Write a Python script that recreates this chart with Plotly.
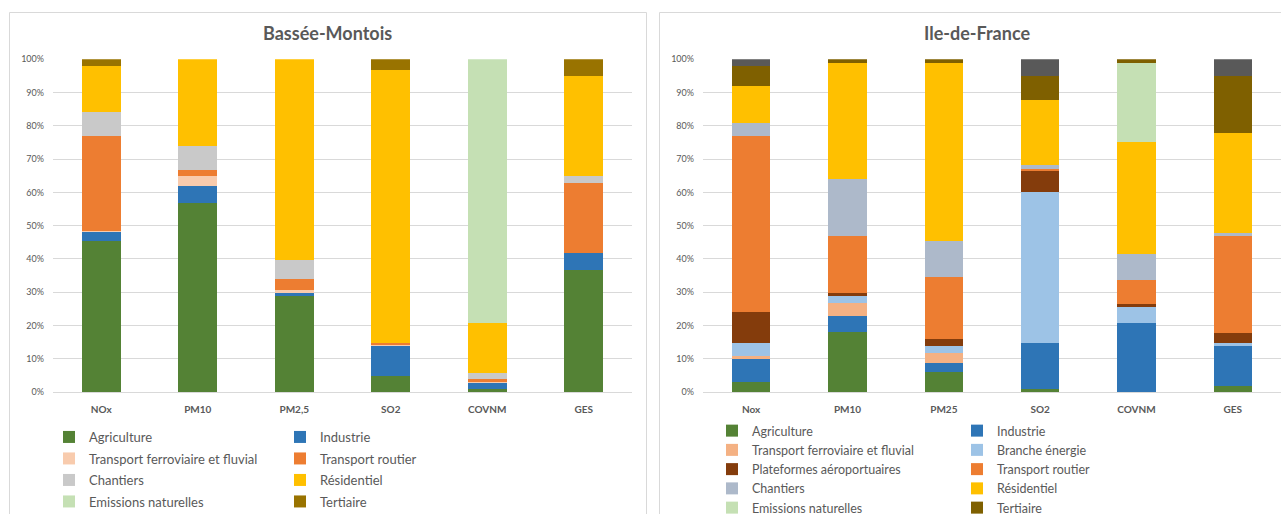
import plotly.graph_objects as go

# ---------------- data ----------------
left_title = "Bassée-Montois"
right_title = "Ile-de-France"

left_categories = ["NOx", "PM10", "PM2,5", "SO2", "COVNM", "GES"]
right_categories = ["Nox", "PM10", "PM25", "SO2", "COVNM", "GES"]

# Bassée-Montois (% of total)
bm_agriculture = [45.4, 56.8, 28.8, 4.8, 0.8, 36.8]
bm_industrie = [2.9, 5.0, 1.0, 9.0, 2.0, 5.0]
bm_ferro = [0.1, 3.0, 1.0, 0.3, 0.2, 0.0]
bm_routier = [28.7, 2.0, 3.1, 0.7, 0.8, 21.0]
bm_chantiers = [7.0, 7.1, 5.9, 0.0, 2.0, 2.0]
bm_residentiel = [13.9, 26.1, 60.2, 82.1, 14.8, 30.1]
bm_naturelles = [0.0, 0.0, 0.0, 0.0, 79.4, 0.0]
bm_tertiaire = [2.1, 0.0, 0.0, 3.1, 0.0, 5.1]

# Ile-de-France (% of total)
idf_agriculture = [3.0, 17.9, 5.9, 0.9, 0.0, 1.9]
idf_industrie = [6.9, 5.0, 2.9, 13.9, 20.7, 12.0]
idf_ferro = [0.9, 4.0, 3.0, 0.0, 0.0, 0.0]
idf_energie = [4.0, 1.9, 2.1, 45.4, 4.9, 0.9]
idf_aero = [9.1, 1.0, 1.9, 6.1, 1.0, 3.0]
idf_routier = [53.0, 17.1, 18.7, 0.8, 7.0, 29.1]
idf_chantiers = [4.0, 17.0, 11.0, 1.0, 8.0, 1.0]
idf_residentiel = [11.0, 35.1, 53.5, 19.8, 33.6, 30.0]
idf_naturelles = [0.0, 0.0, 0.0, 0.0, 23.8, 0.0]
idf_tertiaire = [6.1, 1.0, 1.0, 7.1, 1.0, 17.1]
idf_autres = [2.0, 0.0, 0.0, 5.0, 0.0, 5.0]

y_ticks = list(range(0, 101, 10))
y_tick_labels = ["%d%%" % v for v in y_ticks]

# ---------------- styling ----------------
W, H = 1281, 514
FONT = "Lato"
GREY = "#595959"
GRID = "#D9D9D9"

def px_x(v):
    return v / W

def px_y(v):
    return (H - v) / H

left_series = [
    ("Agriculture", bm_agriculture, "#548235", "legend"),
    ("Industrie", bm_industrie, "#2E75B6", "legend2"),
    ("Transport ferroviaire et fluvial", bm_ferro, "#F8CBAD", "legend"),
    ("Transport routier", bm_routier, "#ED7D31", "legend2"),
    ("Chantiers", bm_chantiers, "#C9C9C9", "legend"),
    ("Résidentiel", bm_residentiel, "#FFC000", "legend2"),
    ("Emissions naturelles", bm_naturelles, "#C5E0B4", "legend"),
    ("Tertiaire", bm_tertiaire, "#997300", "legend2"),
]

right_series = [
    ("Agriculture", idf_agriculture, "#548235", "legend3"),
    ("Industrie", idf_industrie, "#2E75B6", "legend4"),
    ("Transport ferroviaire et fluvial", idf_ferro, "#F4B183", "legend3"),
    ("Branche énergie", idf_energie, "#9DC3E6", "legend4"),
    ("Plateformes aéroportuaires", idf_aero, "#843C0C", "legend3"),
    ("Transport routier", idf_routier, "#ED7D31", "legend4"),
    ("Chantiers", idf_chantiers, "#ADB9CA", "legend3"),
    ("Résidentiel", idf_residentiel, "#FFC000", "legend4"),
    ("Emissions naturelles", idf_naturelles, "#C5E0B4", "legend3"),
    ("Tertiaire", idf_tertiaire, "#7F6000", "legend4"),
    ("Autres", idf_autres, "#595959", None),
]

fig = go.Figure()

for i, (name, vals, color, leg) in enumerate(left_series):
    fig.add_trace(go.Bar(
        x=left_categories, y=vals, name=name, marker_color=color,
        marker_line_width=0, width=0.4, xaxis="x", yaxis="y",
        legend=leg, legendgroup="L%d" % i, showlegend=True,
    ))

for i, (name, vals, color, leg) in enumerate(right_series):
    kw = dict(legend=leg, legendgroup="R%d" % i, showlegend=True) if leg else dict(showlegend=False)
    fig.add_trace(go.Bar(
        x=right_categories, y=vals, name=name, marker_color=color,
        marker_line_width=0, width=0.4, xaxis="x2", yaxis="y2", **kw,
    ))

ydom = [px_y(392), px_y(59.3)]
yaxis_common = dict(
    domain=ydom, range=[0, 100], tickmode="array", tickvals=y_ticks, ticktext=y_tick_labels,
    showgrid=True, gridcolor=GRID, gridwidth=1, zeroline=True,
    zerolinecolor=GRID, zerolinewidth=1, showline=False,
    tickfont=dict(family=FONT, size=9, color=GREY), ticks="",
    ticklabelstandoff=8, fixedrange=True, automargin=False,
)
xaxis_common = dict(
    showgrid=False, zeroline=False, showline=True, linecolor=GRID,
    linewidth=1, ticks="", tickfont=dict(family=FONT, size=10, color=GREY, weight="bold"),
    ticklabelstandoff=8, automargin=False,
)

legend_common = dict(
    orientation="v", xanchor="left", yanchor="top", bgcolor="rgba(0,0,0,0)",
    traceorder="grouped", itemclick=False, itemdoubleclick=False,
)

fig.update_layout(
    width=W, height=H,
    margin=dict(l=0, r=0, t=0, b=0, autoexpand=False),
    paper_bgcolor="white", plot_bgcolor="white",
    barmode="stack", barnorm="percent",
    font=dict(family=FONT, color=GREY),
    xaxis=dict(domain=[px_x(53), px_x(632)], anchor="y", **xaxis_common),
    yaxis=dict(anchor="x", **yaxis_common),
    xaxis2=dict(domain=[px_x(703), 1.0], anchor="y2", **xaxis_common),
    yaxis2=dict(anchor="x2", **yaxis_common),
    legend=dict(x=px_x(49), y=px_y(422), font=dict(family=FONT, size=13, color=GREY),
                tracegroupgap=1.6, **legend_common),
    legend2=dict(x=px_x(280), y=px_y(422), font=dict(family=FONT, size=13, color=GREY),
                 tracegroupgap=1.6, **legend_common),
    legend3=dict(x=px_x(712), y=px_y(416), font=dict(family=FONT, size=12.5, color=GREY),
                 tracegroupgap=0, **legend_common),
    legend4=dict(x=px_x(957), y=px_y(416), font=dict(family=FONT, size=12.5, color=GREY),
                 tracegroupgap=0, **legend_common),
    annotations=[
        dict(text="<b>%s</b>" % left_title, x=px_x(327), y=px_y(32.5), xref="paper", yref="paper",
             xanchor="center", yanchor="middle", showarrow=False,
             font=dict(family=FONT, size=18, color=GREY)),
        dict(text="<b>%s</b>" % right_title, x=px_x(977), y=px_y(32.5), xref="paper", yref="paper",
             xanchor="center", yanchor="middle", showarrow=False,
             font=dict(family=FONT, size=18, color=GREY)),
    ],
    shapes=[
        dict(type="rect", xref="paper", yref="paper", x0=px_x(9.5), x1=px_x(646.5),
             y0=px_y(530), y1=px_y(12.5), line=dict(color=GRID, width=1), layer="below"),
        dict(type="rect", xref="paper", yref="paper", x0=px_x(659.5), x1=px_x(1300),
             y0=px_y(530), y1=px_y(12.5), line=dict(color=GRID, width=1), layer="below"),
    ],
    bargap=0.6,
)

fig.write_html("out.html")
